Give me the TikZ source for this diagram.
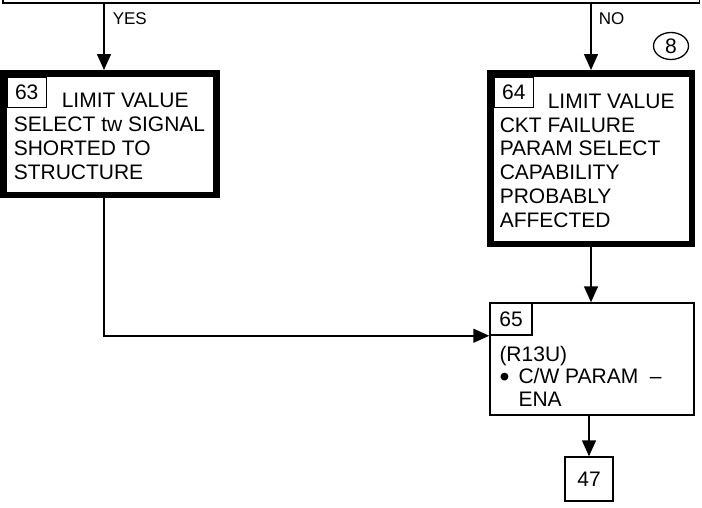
\documentclass[tikz,border=0pt]{standalone}
\usepackage{fontspec}
\setmainfont{Liberation Sans}
\usetikzlibrary{positioning,arrows.meta,shapes.geometric}

\begin{document}
\begin{tikzpicture}[
  x=1pt, y=-1pt,
  line width=1.5pt,
  every node/.style={font=\fontsize{21}{23.8}\selectfont},
  box/.style={draw, line width=1.5pt, inner sep=0pt},
  heavy/.style={draw, line width=6.5pt, inner sep=0pt},
  num/.style={box, anchor=north west, minimum width=39pt, minimum height=30pt},
  txt/.style={inner sep=0pt, align=left, anchor=north west},
  arrow/.style={-{Triangle[length=16pt,width=14pt]}, line width=1.5pt},
  lbl/.style={font=\fontsize{17}{20}\selectfont, inner sep=0pt, anchor=base west}
]
\useasboundingbox (0,0) rectangle (702,507);

\node[box, minimum width=696.5pt, minimum height=40pt] (dec) at (351.25,-17) {};
\coordinate (yx) at (104,0);
\coordinate (nx) at (591,0);

\node[heavy, minimum width=213pt, minimum height=121.5pt] (b63) at (109.75,134) {};
\node[heavy, minimum width=201.5pt, minimum height=170.5pt] (b64) at (591,158.5) {};
\node[box, minimum width=204pt, minimum height=112pt] (b65) at (592,359) {};
\node[box, minimum width=48pt, minimum height=44pt] (b47) at (589,479) {47};

\node[num] (n63) at ([shift={(6.5,6.5)}]b63.north west) {63};
\node[num] (n64) at ([shift={(6.5,6.5)}]b64.north west) {64};
\node[num, minimum width=42pt, minimum height=32pt] (n65) at (b65.north west) {65};

\node[txt] (t63) at ([shift={(13,22.5)}]b63.north west)
  {\hspace*{48pt}LIMIT VALUE\\SELECT tw SIGNAL\\SHORTED TO\\STRUCTURE};
\node[txt] (t64) at ([shift={(12,23)}]b64.north west)
  {\hspace*{48pt}LIMIT VALUE\\CKT FAILURE\\PARAM SELECT\\CAPABILITY\\PROBABLY\\AFFECTED};
\node[txt, font=\fontsize{21}{22.5}\selectfont] (t65) at ([shift={(9.5,9.5)}]n65.south west)
  {(R13U)\\\makebox[19pt][l]{\raisebox{-2.5pt}{\scalebox{1.35}{\textbullet}}}C/W PARAM\ \ \textendash\\\hspace*{19pt}ENA};

\node[draw, ellipse, line width=1.3pt, minimum width=35pt, minimum height=27pt, inner sep=0pt] (c8) at (671,46) {8};

\node[lbl] (yes) at (112,24) {YES};
\node[lbl] (no) at (598,24) {NO};

\draw[arrow] (dec.south -| yx) -- (b63.north -| yx);
\draw[arrow] (dec.south -| nx) -- (b64.north -| nx);
\draw[arrow] (b64.south -| nx) -- (b65.north -| nx);
\draw[arrow] (b63.south -| yx) |- (n65.south west);
\draw[arrow] (b65.south -| b47.north) -- (b47.north);

\end{tikzpicture}
\end{document}
